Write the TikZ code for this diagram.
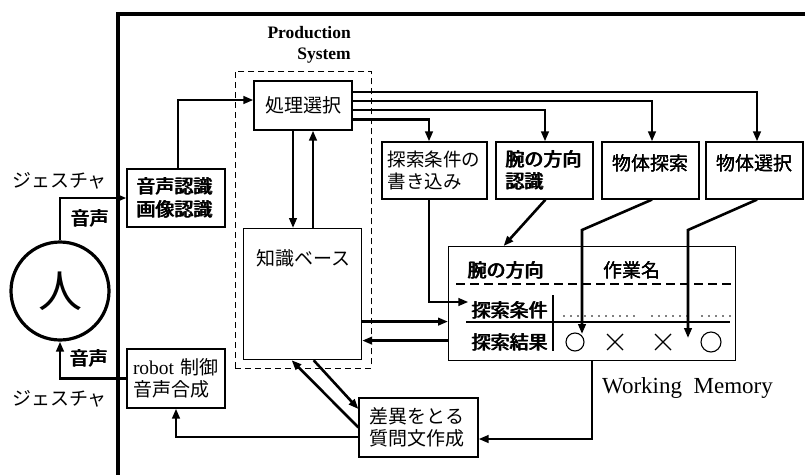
\documentclass[tikz,border=0pt]{standalone}
\usepackage{fontspec}
\setmainfont{Liberation Serif}
\newfontfamily\jp{Noto Sans CJK JP}
\newcommand{\bj}[1]{\leavevmode\rlap{#1}\kern0.45pt\rlap{#1}\kern0.45pt#1}
\usetikzlibrary{arrows.meta,calc}
\begin{document}
\begin{tikzpicture}[x=1pt,y=-1pt,
  conn/.style={line width=2.6pt},
  arr/.style={conn,-{Triangle[length=10pt,width=7.5pt]}},
  boxs/.style={draw,line width=1.2pt,inner sep=0pt},
  jt/.style={font=\jp\fontsize{19}{22.5}\selectfont, inner sep=0pt, align=left},
  sym/.style={line width=1.1pt},
]
\useasboundingbox (0,0) rectangle (805,474);
% outer frame
\draw[line width=3.2pt] (118,476) -- (118,14) -- (808,14);
% production system
\node[font=\bfseries\fontsize{17.5}{21}\selectfont, align=right, anchor=north east, inner sep=0pt] (pstitle) at (351,26) {Production\\System};
\node[draw, dash pattern=on 6pt off 4pt, line width=0.9pt, minimum width=136, minimum height=297, anchor=north west, inner sep=0pt] (psbox) at (235,71) {};
% boxes
\node[boxs, minimum width=98, minimum height=49, jt] (ps) at (303,105.5) {処理選択};
\node[boxs, minimum width=98, minimum height=58, jt, text width=79] (asr) at (176,198) {\bj{音声認識}\\\bj{画像認識}};
\node[boxs, minimum width=118, minimum height=131, anchor=north west] (kb) at (243,228) {};
\node[jt, anchor=north west] (kbtext) at (256,249) {知識ベース};
\node[boxs, minimum width=98, minimum height=59, jt, text width=86] (robot) at (176,378.5) {{\rmfamily\fontsize{19.5}{22.5}\selectfont robot} 制御\\音声合成};
\node[boxs, minimum width=119, minimum height=59, jt, text width=98] (diff) at (418.5,427.5) {差異をとる\\質問文作成};
\node[boxs, minimum width=105, minimum height=57, font=\jp\fontsize{18.5}{22}\selectfont, inner sep=0pt, align=left, text width=94] (b1) at (434.5,170.5) {探索条件の\\書き込み};
\node[boxs, minimum width=97, minimum height=57, jt, text width=78] (b2) at (544.5,170.5) {\bj{腕の方向}\\\bj{認識}};
\node[boxs, minimum width=97, minimum height=57] (b3) at (650.5,170.5) {};
\node[jt] (b3text) at (650.5,163) {\bj{物体探索}};
\node[boxs, minimum width=97, minimum height=57] (b4) at (754.5,170.5) {};
\node[jt] (b4text) at (754.5,163) {\bj{物体選択}};
% person
\node[draw, circle, line width=3.2pt, minimum size=98pt, inner sep=0pt, font=\jp\fontsize{44}{44}\selectfont] (person) at (60,291) {人};
\node[jt] (ges1) at (59.5,181) {ジェスチャ};
\node[jt] (voice1) at (90,218) {\bj{音声}};
\node[jt] (voice2) at (89,358) {\bj{音声}};
\node[jt] (ges2) at (59.5,399) {ジェスチャ};
% working memory
\node[boxs, minimum width=287, minimum height=114, anchor=north west] (wm) at (448,246) {};
\node[jt] (wmarm) at (506,270) {\bj{腕の方向}};
\node[jt] (wmtask) at (632,270) {\bj{作業名}};
\node[jt] (wmcond) at (510,310) {\bj{探索条件}};
\node[jt] (wmres) at (510,342) {\bj{探索結果}};
\draw[line width=1.1pt, dash pattern=on 9pt off 5pt] (456,284) -- (731,284);
\draw[line width=1.1pt] (466,322) -- (730,322);
\draw[line width=1.1pt] (553,295) -- (553,351);
\draw[line width=1.8pt, line cap=round, dash pattern=on 0pt off 7pt] (564,316) -- (640,316);
\draw[line width=1.8pt, line cap=round, dash pattern=on 0pt off 7pt] (652,316) -- (688,316);
\draw[line width=1.8pt, line cap=round, dash pattern=on 0pt off 7pt] (702,316) -- (733,316);
\node[draw, circle, sym, minimum size=18pt, inner sep=0pt] (o1) at (575,342) {};
\node[draw, circle, sym, minimum size=20pt, inner sep=0pt] (o2) at (711,342) {};
\draw[sym] (607,334) -- (623,350) (607,350) -- (623,334);
\draw[sym] (655,334) -- (671,350) (655,350) -- (671,334);
\node[font=\fontsize{23}{26}\selectfont, inner sep=0pt, anchor=base west] (wmtitle) at (602,393) {Working\hspace{0.5em}Memory};
% connectors
\draw[arr] (person.north) |- (asr.west);
\draw[arr] (robot.west) -| (person.south);
\draw[arr] ([yshift=-9.5pt]diff.west) -| (robot.south);
\draw[arr] ([xshift=2pt]asr.north) |- ([yshift=5.5pt]ps.west);
\draw[arr] ([xshift=-10pt]ps.south) -- ([xshift=-10pt]ps.south |- kb.north);
\draw[arr] ([xshift=10pt]ps.south |- kb.north) -- ([xshift=10pt]ps.south);
\draw[arr] ([yshift=13.5pt]ps.east) -| ([xshift=2.5pt]b4.north);
\draw[arr] ([yshift=4.5pt]ps.east) -| ([xshift=1.5pt]b3.north);
\draw[arr] ([yshift=-4.5pt]ps.east) -| ([xshift=0.5pt]b2.north);
\draw[arr] ([yshift=-14pt]ps.east) -| ([xshift=-5.5pt]b1.north);
\draw[arr] ([xshift=-5.5pt]b1.south) |- ([xshift=-3pt,yshift=8pt]wmcond.west);
\draw[arr] ([xshift=1pt]b2.south) -- ([xshift=-88.5pt]wm.north);
\coordinate (bend3) at (582,230);
\coordinate (end3) at (582,334);
\coordinate (bend4) at (688,230);
\coordinate (end4) at (688,338);
\draw[arr] ([xshift=1.5pt]b3.south) -- (bend3) -- (end3);
\draw[arr] ([xshift=2.5pt]b4.south) -- (bend4) -- (end4);
\draw[arr] ([yshift=-27.5pt]kb.east) -- ([yshift=-27.5pt]kb.east -| wm.west);
\draw[arr] ([yshift=-46.5pt]kb.east -| wm.west) -- ([yshift=-46.5pt]kb.east);
\draw[arr] (wm.south) |- ([yshift=-11.5pt]diff.east);
\draw[arr] ([xshift=11pt]kb.south) -- ([yshift=18.5pt]diff.west);
\draw[arr] (diff.west) -- ([xshift=-11pt]kb.south);
\end{tikzpicture}
\end{document}
